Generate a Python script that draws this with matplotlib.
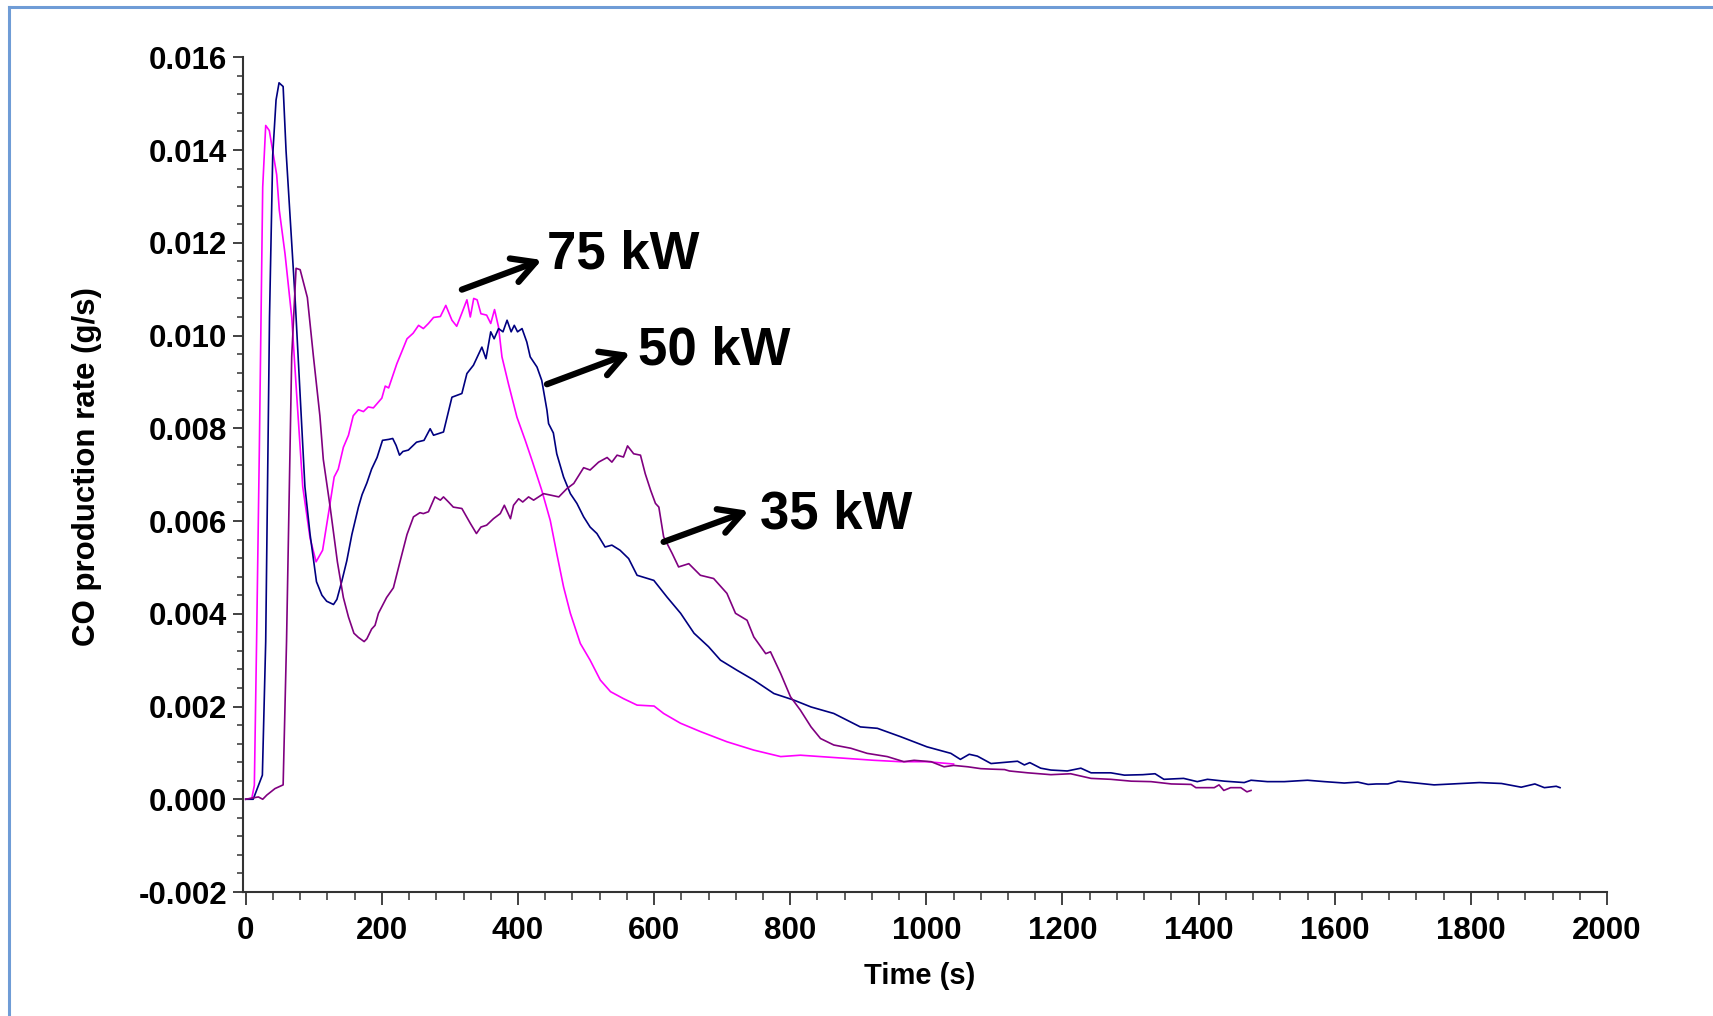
import matplotlib
matplotlib.use("Agg")
import matplotlib.pyplot as plt
from matplotlib.ticker import MultipleLocator, FormatStrFormatter
from matplotlib.lines import Line2D

plt.rcParams['font.family'] = ['Liberation Sans', 'DejaVu Sans']

# ---- data: 75 kW ----
t_75 = [0, 9, 12.7, 16, 20, 25, 29.4, 34.7, 45.5, 49.4, 57.8, 67.6, 75, 83.8, 94.6, 103.4,
        113, 121.5, 130, 136, 143.5, 151, 158, 165.6, 173, 180, 187.6, 200, 205, 210, 222,
        229, 237, 246, 254, 261, 268.5, 276, 286, 294, 303, 310, 318, 325, 330, 335, 340,
        345.6, 354, 360, 365.6, 371.5, 376.5, 386, 398.5, 410.7, 420.6, 435, 447.5, 457,
        467, 477, 491.6, 506, 521, 536, 555, 575, 600, 614, 638.7, 668, 707, 746.5, 786,
        815, 844.5, 884, 923, 962, 1001, 1040]
co_75 = [0, 0.00002, 0.0003, 0.0034, 0.0075, 0.0132, 0.01453, 0.01442, 0.01347, 0.0127,
         0.01176, 0.0104, 0.0087, 0.00674, 0.00563, 0.00512, 0.00537, 0.00615, 0.00695,
         0.00712, 0.00759, 0.00785, 0.00827, 0.0084, 0.00836, 0.00846, 0.00844, 0.00865,
         0.00891, 0.00887, 0.00939, 0.00964, 0.00993, 0.01005, 0.01022, 0.01015, 0.01026,
         0.01039, 0.01041, 0.01065, 0.01033, 0.0102, 0.0105, 0.01077, 0.0104, 0.0108,
         0.01077, 0.01047, 0.01044, 0.01026, 0.01056, 0.01018, 0.00954, 0.00896, 0.00824,
         0.00774, 0.00731, 0.00666, 0.00601, 0.0053, 0.00458, 0.00401, 0.00336, 0.003,
         0.00257, 0.00232, 0.00217, 0.00203, 0.00201, 0.00185, 0.00164, 0.00146, 0.00124,
         0.00106, 0.00092, 0.00095, 0.00092, 0.00088, 0.00084, 0.00081, 0.00081, 0.00076]

# ---- data: 50 kW ----
t_50 = [0, 11, 24.5, 29.4, 35, 39.7, 44.6, 49, 55, 59.3, 65, 72.5, 80, 87, 94.6, 104, 112,
        119, 129, 134, 141, 148.5, 156, 165.6, 171, 178, 185, 193, 201, 210, 216, 221, 226,
        231, 239, 251, 262, 271, 276, 290.6, 303, 317.6, 325, 334.6, 347, 353, 360, 365,
        371.5, 378, 384, 390, 394.6, 399.4, 406, 413, 418, 428, 435, 442.6, 445, 452, 457,
        467, 477, 486.6, 496.5, 506, 516, 528, 538, 550, 562.6, 575, 599.6, 619, 639,
        658.7, 680, 697.5, 722, 746.5, 776, 805, 830.6, 864, 903, 928, 962, 1001, 1036,
        1050, 1063, 1075, 1095, 1110, 1134, 1144, 1152, 1168, 1183, 1207, 1227, 1242,
        1271, 1291, 1318, 1336, 1349, 1378, 1398, 1413, 1438, 1467, 1477, 1501, 1526,
        1560, 1585, 1614, 1634, 1649, 1661, 1678, 1693, 1746, 1812.6, 1845, 1874, 1894,
        1908, 1925.4, 1931]
co_50 = [0, 0, 0.00052, 0.0034, 0.0104, 0.01389, 0.01508, 0.01545, 0.01537, 0.01398,
         0.01261, 0.01082, 0.0087, 0.00674, 0.00571, 0.00469, 0.0044, 0.00427, 0.0042,
         0.00431, 0.00469, 0.00514, 0.00571, 0.0063, 0.00657, 0.00682, 0.00712, 0.00737,
         0.00774, 0.00776, 0.00778, 0.00763, 0.00742, 0.0075, 0.00753, 0.0077, 0.00774,
         0.00799, 0.00785, 0.00792, 0.00867, 0.00875, 0.00918, 0.00936, 0.00975, 0.0095,
         0.01008, 0.00993, 0.01015, 0.01008, 0.01033, 0.01008, 0.01022, 0.01008, 0.01015,
         0.00986, 0.00954, 0.00932, 0.00903, 0.00839, 0.0081, 0.0079, 0.00745, 0.00695,
         0.00659, 0.00638, 0.00609, 0.00587, 0.00573, 0.00544, 0.00548, 0.00537, 0.00519,
         0.00483, 0.00472, 0.00436, 0.00401, 0.00358, 0.00329, 0.003, 0.00278, 0.00257,
         0.00228, 0.00214, 0.00199, 0.00185, 0.00156, 0.00153, 0.00135, 0.00113, 0.00099,
         0.00086, 0.00097, 0.00093, 0.00077, 0.00079, 0.00082, 0.00074, 0.00079, 0.00067,
         0.00063, 0.00061, 0.00067, 0.00057, 0.00057, 0.00052, 0.00053, 0.00055, 0.00043,
         0.00045, 0.00038, 0.00043, 0.00039, 0.00036, 0.00041, 0.00038, 0.00038, 0.00041,
         0.00038, 0.00035, 0.00037, 0.00032, 0.00033, 0.00033, 0.00039, 0.00031, 0.00036,
         0.00034, 0.00026, 0.00033, 0.00025, 0.00028, 0.00025]

# ---- data: 35 kW ----
t_35 = [0, 18.6, 25, 31, 43, 55, 60, 67.6, 74, 80, 90.6, 99.5, 109, 114, 124, 134.7, 143.5,
        151, 159, 165.6, 174, 178, 185, 190, 195, 207, 217, 227, 237, 246.5, 256, 261,
        268.5, 278, 286, 290.6, 298, 305, 317.6, 330, 339, 345.6, 354, 364, 374, 380, 389,
        393.5, 401, 407, 415.6, 423, 437.6, 447.5, 460, 472, 482, 496.5, 506, 518.5, 531,
        538, 545.6, 555, 561, 570, 580, 587, 595, 602, 607, 614, 626.6, 636, 651, 668,
        687.5, 707, 719.6, 736.6, 746.5, 764, 771, 786, 800.4, 815, 830.6, 844.5, 864, 889,
        913, 942.6, 967, 982, 1007, 1026, 1040, 1061, 1080, 1095, 1115, 1122, 1149, 1183,
        1212, 1242, 1271, 1301, 1330, 1360, 1389, 1396, 1423, 1430, 1437, 1447, 1462, 1471,
        1477]
co_35 = [0, 0.00005, 0.0, 0.00009, 0.00023, 0.00031, 0.0034, 0.00955, 0.01145, 0.01142,
         0.01082, 0.00955, 0.00827, 0.00733, 0.00631, 0.00512, 0.00435, 0.00393, 0.00358,
         0.00349, 0.0034, 0.00346, 0.00367, 0.00375, 0.00401, 0.00435, 0.00456, 0.00514,
         0.00571, 0.00609, 0.00618, 0.00616, 0.0062, 0.00652, 0.00645, 0.00652, 0.00641,
         0.0063, 0.00627, 0.00595, 0.00573, 0.00587, 0.00591, 0.00605, 0.00616, 0.00634,
         0.00605, 0.00634, 0.00648, 0.00641, 0.00652, 0.00645, 0.00659, 0.00656, 0.00652,
         0.0067, 0.00681, 0.00715, 0.0071, 0.00727, 0.00737, 0.00727, 0.00742, 0.00738,
         0.00762, 0.00745, 0.00742, 0.00702, 0.00666, 0.00638, 0.0063, 0.00566, 0.0053,
         0.00501, 0.00508, 0.00483, 0.00476, 0.00444, 0.00401, 0.00386, 0.0035, 0.00314,
         0.00318, 0.00271, 0.00221, 0.00192, 0.00156, 0.00131, 0.00117, 0.0011, 0.00099,
         0.00092, 0.00081, 0.00084, 0.00081, 0.0007, 0.00073, 0.0007, 0.00066, 0.00065,
         0.00064, 0.00061, 0.00057, 0.00053, 0.00055, 0.00045, 0.00043, 0.00039, 0.00038,
         0.00033, 0.00032, 0.00025, 0.00025, 0.00031, 0.00019, 0.00025, 0.00025, 0.00016,
         0.00019]

labels = ["75 kW", "50 kW", "35 kW"]
colors = ["#ff00ff", "#000080", "#800080"]
# arrow tail (t, co), arrow head (t, co), text anchor (t, baseline co)
arrow_tail = [(317.6, 0.01099), (442.6, 0.00895), (614, 0.00555)]
arrow_head = [(435, 0.01163), (565, 0.00962), (739, 0.00622)]
text_pos = [(442, 0.01145), (577, 0.00937), (756, 0.00584)]

x_ticks = list(range(0, 2001, 200))
y_ticks = [-0.002, 0.0, 0.002, 0.004, 0.006, 0.008, 0.010, 0.012, 0.014, 0.016]

# ---- figure ----
W, H = 1713, 1016
fig = plt.figure(figsize=(W / 100, H / 100), dpi=100)
ax = fig.add_axes([242.7 / W, 1 - 892 / H, (1607 - 242.7) / W, (892 - 57.3) / H])

for t, c, col in zip([t_75, t_50, t_35], [co_75, co_50, co_35], colors):
    ax.plot(t, c, color=col, lw=1.2)

ax.set_xlim(-4.4, 2000)
ax.set_ylim(-0.002, 0.016)
ax.set_xticks(x_ticks)
ax.set_yticks(y_ticks)
ax.xaxis.set_minor_locator(MultipleLocator(40))
ax.yaxis.set_minor_locator(MultipleLocator(0.0004))
ax.yaxis.set_major_formatter(FormatStrFormatter('%.3f'))

axcol = '#333333'
for s in ['top', 'right']:
    ax.spines[s].set_visible(False)
for s in ['left', 'bottom']:
    ax.spines[s].set_color(axcol)
    ax.spines[s].set_linewidth(1.5)

ax.tick_params(axis='x', which='major', length=9.5, width=1.3, color=axcol, pad=8,
               labelsize=22.5)
ax.tick_params(axis='x', which='minor', length=5.5, width=1.1, color=axcol)
ax.tick_params(axis='y', which='major', length=7, width=1.3, color=axcol, pad=4,
               labelsize=22.5)
ax.tick_params(axis='y', which='minor', length=4.5, width=1.1, color=axcol)
for lab in ax.get_xticklabels() + ax.get_yticklabels():
    lab.set_fontweight('bold')

fig.text(920 / W, 1 - 976 / H, "Time (s)", ha='center', va='center',
         fontsize=21, fontweight='bold')
fig.text(87 / W, 1 - 467 / H, "CO production rate (g/s)", ha='center', va='center',
         rotation=90, fontsize=22.5, fontweight='bold')

for lab, tail, head, tp in zip(labels, arrow_tail, arrow_head, text_pos):
    ax.annotate("", xy=head, xytext=tail,
                arrowprops=dict(arrowstyle='->,head_length=0.55,head_width=0.3',
                                lw=4.5, color='black', mutation_scale=30,
                                shrinkA=0, shrinkB=0))
    ax.text(tp[0], tp[1], lab, ha='left', va='baseline', fontsize=38,
            fontweight='bold', color='black')

# light-blue outer frame
fc = '#6f9cd6'
fig.add_artist(Line2D([9 / W, 1.0], [1 - 7 / H, 1 - 7 / H], color=fc, lw=2.2,
                      transform=fig.transFigure))
fig.add_artist(Line2D([9 / W, 9 / W], [0.0, 1 - 7 / H], color=fc, lw=2.2,
                      transform=fig.transFigure))

fig.savefig("out.png", dpi=100)
